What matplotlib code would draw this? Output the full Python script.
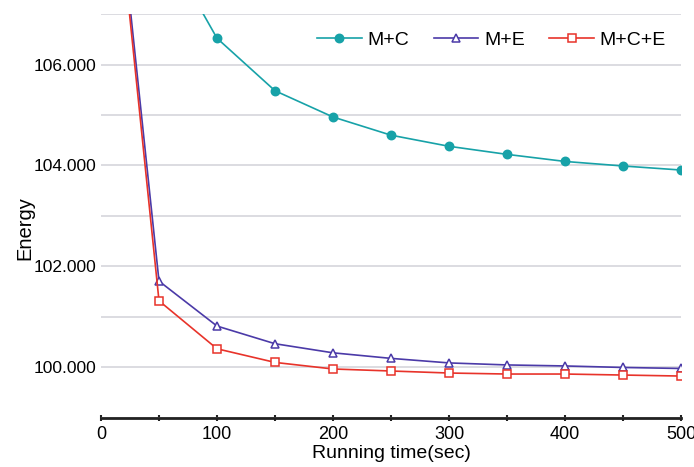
import matplotlib.pyplot as plt
from matplotlib.ticker import FuncFormatter, MultipleLocator

plt.rcParams['font.family'] = ['Liberation Sans', 'DejaVu Sans']

time_sec = [0, 50, 100, 150, 200, 250, 300, 350, 400, 450, 500]
energy_mc = [111000, 108550, 106520, 105480, 104960, 104600, 104380, 104220, 104080, 103990, 103910]
energy_me = [112600, 101710, 100820, 100470, 100290, 100180, 100090, 100050, 100030, 100000, 99980]
energy_mce = [112500, 101320, 100370, 100100, 99970, 99930, 99890, 99870, 99870, 99850, 99830]

series = [
    ('M+C', energy_mc, '#17a2a8', 'o', '#17a2a8'),
    ('M+E', energy_me, '#4b3aa8', '^', 'white'),
    ('M+C+E', energy_mce, '#e8332a', 's', 'white'),
]

fig = plt.figure(figsize=(6.94, 4.67), dpi=100)
ax = fig.add_axes([0.1455, 0.105, 0.836, 0.865])

for name, vals, color, marker, face in series:
    ax.plot(time_sec, vals, color=color, lw=1.2, marker=marker, ms=6,
            markerfacecolor=face, markeredgecolor=color, markeredgewidth=1.1,
            label=name)

ax.set_xlim(0, 500)
ax.set_ylim(99000, 107000)
ax.xaxis.set_major_locator(MultipleLocator(100))
ax.xaxis.set_minor_locator(MultipleLocator(50))
ax.yaxis.set_major_locator(MultipleLocator(2000))
ax.yaxis.set_minor_locator(MultipleLocator(1000))
ax.yaxis.set_major_formatter(FuncFormatter(lambda v, p: f'{v/1000:.3f}'))

ax.grid(True, which='both', axis='y', color='#d6d6dc', lw=1.2)
ax.set_axisbelow(True)
for s in ['left', 'right', 'top']:
    ax.spines[s].set_visible(False)
ax.spines['bottom'].set_linewidth(2)
ax.spines['bottom'].set_color('#222222')
ax.tick_params(axis='x', which='both', direction='inout', length=5, width=1.5,
               labelsize=13, color='#222222')
ax.tick_params(axis='y', which='both', length=0, labelsize=12.5, pad=3)

ax.set_xlabel('Running time(sec)', fontsize=14, labelpad=1)
ax.set_ylabel('Energy', fontsize=14.5)
ax.yaxis.set_label_coords(-0.115, 0.47)

ax.legend(loc='upper right', ncol=3, frameon=False, fontsize=14,
          handlelength=2.3, columnspacing=1.25, handletextpad=0.3,
          bbox_to_anchor=(1.004, 1.0))

fig.savefig('out.png', dpi=100)
